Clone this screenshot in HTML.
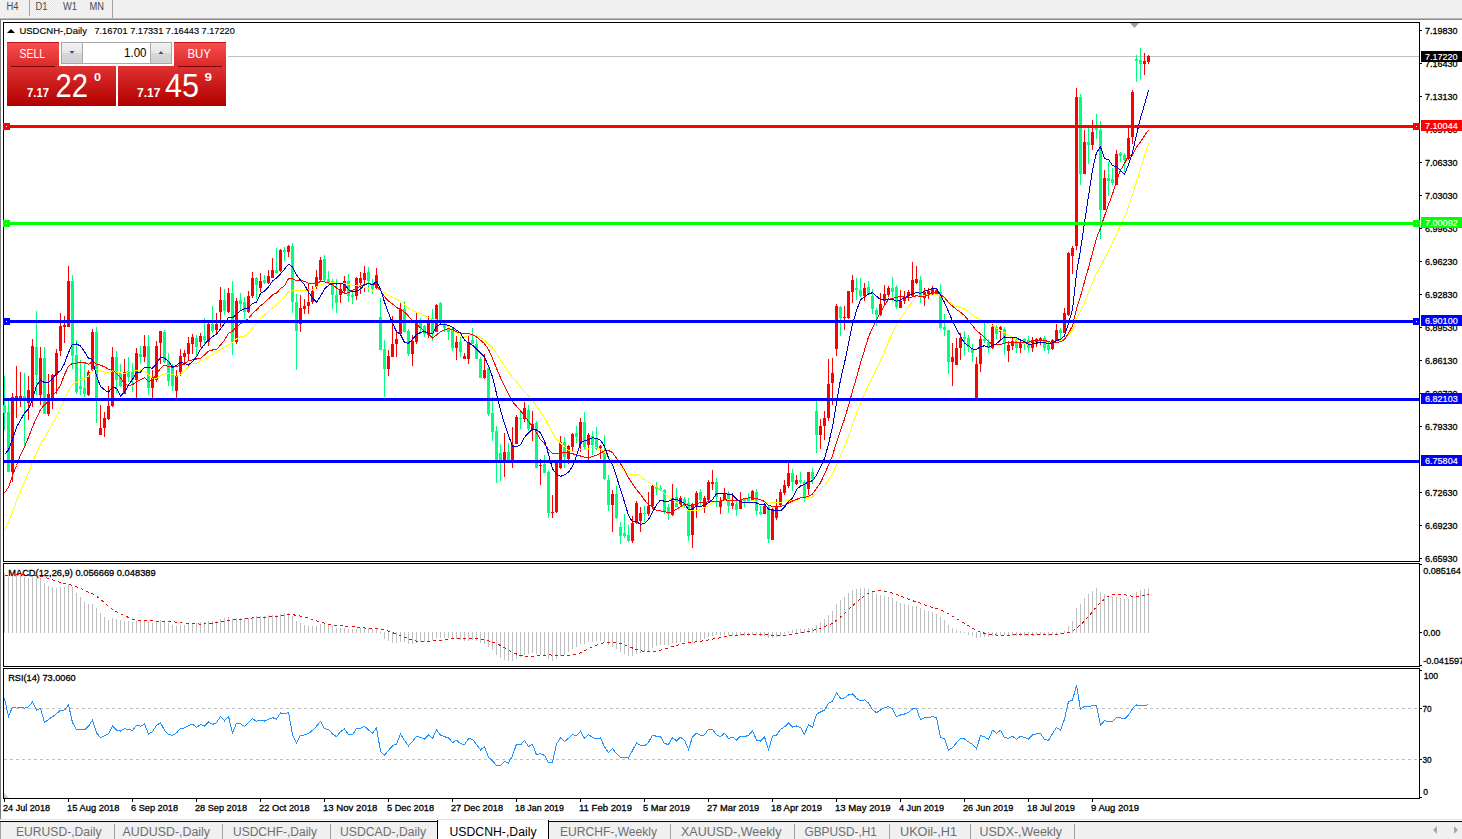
<!DOCTYPE html>
<html><head><meta charset="utf-8"><style>
html,body{margin:0;padding:0;background:#fff;overflow:hidden;width:1462px;height:839px}
svg{display:block;font-family:"Liberation Sans", sans-serif}
</style></head><body>
<svg width="1462" height="839" viewBox="0 0 1462 839">
<rect width="1462" height="839" fill="#fff"/>
<rect x="0" y="0" width="1462" height="18" fill="#f0f0f0"/>
<defs><pattern id="chk" width="2" height="2" patternUnits="userSpaceOnUse"><rect width="2" height="2" fill="#f7f7f7"/><rect width="1" height="1" fill="#e6e6e6"/><rect x="1" y="1" width="1" height="1" fill="#e6e6e6"/></pattern><linearGradient id="rtop" x1="0" y1="0" x2="0" y2="1"><stop offset="0" stop-color="#f75050"/><stop offset="1" stop-color="#dc2a2a"/></linearGradient><linearGradient id="rbot" x1="0" y1="0" x2="0" y2="1"><stop offset="0" stop-color="#e03232"/><stop offset="1" stop-color="#b00000"/></linearGradient><linearGradient id="gbtn" x1="0" y1="0" x2="0" y2="1"><stop offset="0" stop-color="#f2f2f2"/><stop offset="0.5" stop-color="#e6e6e6"/><stop offset="0.5" stop-color="#d8d8d8"/><stop offset="1" stop-color="#cfcfcf"/></linearGradient></defs>
<rect x="30" y="0" width="24" height="16" fill="url(#chk)"/>
<rect x="29" y="0" width="1" height="16" fill="#a0a0a0"/>
<rect x="112" y="0" width="1" height="18" fill="#a0a0a0"/>
<text x="6.5" y="10" font-size="10" fill="#4a4a4a" text-anchor="start" font-weight="normal" textLength="12" lengthAdjust="spacingAndGlyphs" >H4</text>
<text x="35.5" y="10" font-size="10" fill="#4a4a4a" text-anchor="start" font-weight="normal" textLength="12" lengthAdjust="spacingAndGlyphs" >D1</text>
<text x="63" y="10" font-size="10" fill="#4a4a4a" text-anchor="start" font-weight="normal" textLength="14" lengthAdjust="spacingAndGlyphs" >W1</text>
<text x="89.5" y="10" font-size="10" fill="#4a4a4a" text-anchor="start" font-weight="normal" textLength="14.5" lengthAdjust="spacingAndGlyphs" >MN</text>
<rect x="0" y="18" width="1462" height="1" fill="#b8b8b8"/>
<rect x="0" y="19" width="1462" height="1" fill="#8c8c8c"/>
<rect x="0" y="19" width="1" height="800" fill="#7a7a7a"/>
<rect x="3.5" y="22.5" width="1416" height="539" fill="none" stroke="#000" stroke-width="1"/>
<rect x="3.5" y="563.5" width="1416" height="103" fill="none" stroke="#000" stroke-width="1"/>
<rect x="3.5" y="668.5" width="1416" height="130" fill="none" stroke="#000" stroke-width="1"/>
<rect x="1420" y="30" width="2" height="1" fill="#000"/>
<text x="1425" y="34" font-size="9.8" fill="#000" text-anchor="start" font-weight="normal" textLength="32.5" lengthAdjust="spacingAndGlyphs" stroke="#000" stroke-width="0.3">7.19830</text>
<rect x="1420" y="63" width="2" height="1" fill="#000"/>
<text x="1425" y="67" font-size="9.8" fill="#000" text-anchor="start" font-weight="normal" textLength="32.5" lengthAdjust="spacingAndGlyphs" stroke="#000" stroke-width="0.3">7.16430</text>
<rect x="1420" y="96" width="2" height="1" fill="#000"/>
<text x="1425" y="100" font-size="9.8" fill="#000" text-anchor="start" font-weight="normal" textLength="32.5" lengthAdjust="spacingAndGlyphs" stroke="#000" stroke-width="0.3">7.13130</text>
<rect x="1420" y="129" width="2" height="1" fill="#000"/>
<text x="1425" y="133" font-size="9.8" fill="#000" text-anchor="start" font-weight="normal" textLength="32.5" lengthAdjust="spacingAndGlyphs" stroke="#000" stroke-width="0.3">7.09730</text>
<rect x="1420" y="162" width="2" height="1" fill="#000"/>
<text x="1425" y="166" font-size="9.8" fill="#000" text-anchor="start" font-weight="normal" textLength="32.5" lengthAdjust="spacingAndGlyphs" stroke="#000" stroke-width="0.3">7.06330</text>
<rect x="1420" y="195" width="2" height="1" fill="#000"/>
<text x="1425" y="199" font-size="9.8" fill="#000" text-anchor="start" font-weight="normal" textLength="32.5" lengthAdjust="spacingAndGlyphs" stroke="#000" stroke-width="0.3">7.03030</text>
<rect x="1420" y="228" width="2" height="1" fill="#000"/>
<text x="1425" y="232" font-size="9.8" fill="#000" text-anchor="start" font-weight="normal" textLength="32.5" lengthAdjust="spacingAndGlyphs" stroke="#000" stroke-width="0.3">6.99630</text>
<rect x="1420" y="261" width="2" height="1" fill="#000"/>
<text x="1425" y="265" font-size="9.8" fill="#000" text-anchor="start" font-weight="normal" textLength="32.5" lengthAdjust="spacingAndGlyphs" stroke="#000" stroke-width="0.3">6.96230</text>
<rect x="1420" y="294" width="2" height="1" fill="#000"/>
<text x="1425" y="298" font-size="9.8" fill="#000" text-anchor="start" font-weight="normal" textLength="32.5" lengthAdjust="spacingAndGlyphs" stroke="#000" stroke-width="0.3">6.92830</text>
<rect x="1420" y="327" width="2" height="1" fill="#000"/>
<text x="1425" y="331" font-size="9.8" fill="#000" text-anchor="start" font-weight="normal" textLength="32.5" lengthAdjust="spacingAndGlyphs" stroke="#000" stroke-width="0.3">6.89530</text>
<rect x="1420" y="360" width="2" height="1" fill="#000"/>
<text x="1425" y="364" font-size="9.8" fill="#000" text-anchor="start" font-weight="normal" textLength="32.5" lengthAdjust="spacingAndGlyphs" stroke="#000" stroke-width="0.3">6.86130</text>
<rect x="1420" y="393" width="2" height="1" fill="#000"/>
<text x="1425" y="397" font-size="9.8" fill="#000" text-anchor="start" font-weight="normal" textLength="32.5" lengthAdjust="spacingAndGlyphs" stroke="#000" stroke-width="0.3">6.82730</text>
<rect x="1420" y="426" width="2" height="1" fill="#000"/>
<text x="1425" y="430" font-size="9.8" fill="#000" text-anchor="start" font-weight="normal" textLength="32.5" lengthAdjust="spacingAndGlyphs" stroke="#000" stroke-width="0.3">6.79330</text>
<rect x="1420" y="459" width="2" height="1" fill="#000"/>
<text x="1425" y="463" font-size="9.8" fill="#000" text-anchor="start" font-weight="normal" textLength="32.5" lengthAdjust="spacingAndGlyphs" stroke="#000" stroke-width="0.3">6.75930</text>
<rect x="1420" y="492" width="2" height="1" fill="#000"/>
<text x="1425" y="496" font-size="9.8" fill="#000" text-anchor="start" font-weight="normal" textLength="32.5" lengthAdjust="spacingAndGlyphs" stroke="#000" stroke-width="0.3">6.72630</text>
<rect x="1420" y="525" width="2" height="1" fill="#000"/>
<text x="1425" y="529" font-size="9.8" fill="#000" text-anchor="start" font-weight="normal" textLength="32.5" lengthAdjust="spacingAndGlyphs" stroke="#000" stroke-width="0.3">6.69230</text>
<rect x="1420" y="558" width="2" height="1" fill="#000"/>
<text x="1425" y="562" font-size="9.8" fill="#000" text-anchor="start" font-weight="normal" textLength="32.5" lengthAdjust="spacingAndGlyphs" stroke="#000" stroke-width="0.3">6.65930</text>
<rect x="1420" y="564" width="2" height="1" fill="#000"/>
<rect x="1420" y="632" width="2" height="1" fill="#000"/>
<rect x="1420" y="665" width="2" height="1" fill="#000"/>
<text x="1423.2" y="573.6" font-size="9.8" fill="#000" text-anchor="start" font-weight="normal" textLength="37.6" lengthAdjust="spacingAndGlyphs" stroke="#000" stroke-width="0.3">0.085164</text>
<text x="1423.2" y="635.7" font-size="9.8" fill="#000" text-anchor="start" font-weight="normal" textLength="17.1" lengthAdjust="spacingAndGlyphs" stroke="#000" stroke-width="0.3">0.00</text>
<text x="1423.2" y="663.8" font-size="9.8" fill="#000" text-anchor="start" font-weight="normal" textLength="41" lengthAdjust="spacingAndGlyphs" stroke="#000" stroke-width="0.3">-0.041597</text>
<rect x="1420" y="670" width="2" height="1" fill="#000"/>
<rect x="1420" y="708" width="2" height="1" fill="#000"/>
<rect x="1420" y="759" width="2" height="1" fill="#000"/>
<rect x="1420" y="797" width="2" height="1" fill="#000"/>
<text x="1423.7" y="679.2" font-size="9.8" fill="#000" text-anchor="start" font-weight="normal" textLength="14.5" lengthAdjust="spacingAndGlyphs" stroke="#000" stroke-width="0.3">100</text>
<text x="1422.5" y="712" font-size="9.8" fill="#000" text-anchor="start" font-weight="normal" textLength="9.2" lengthAdjust="spacingAndGlyphs" stroke="#000" stroke-width="0.3">70</text>
<text x="1422.5" y="762.8" font-size="9.8" fill="#000" text-anchor="start" font-weight="normal" textLength="9.2" lengthAdjust="spacingAndGlyphs" stroke="#000" stroke-width="0.3">30</text>
<text x="1423.2" y="794.5" font-size="9.8" fill="#000" text-anchor="start" font-weight="normal" textLength="4.8" lengthAdjust="spacingAndGlyphs" stroke="#000" stroke-width="0.3">0</text>
<rect x="4" y="799" width="1" height="3" fill="#000"/>
<text x="3" y="811" font-size="9.8" fill="#000" text-anchor="start" font-weight="normal" textLength="47" lengthAdjust="spacingAndGlyphs" stroke="#000" stroke-width="0.3">24 Jul 2018</text>
<rect x="68" y="799" width="1" height="3" fill="#000"/>
<text x="67" y="811" font-size="9.8" fill="#000" text-anchor="start" font-weight="normal" textLength="52.5" lengthAdjust="spacingAndGlyphs" stroke="#000" stroke-width="0.3">15 Aug 2018</text>
<rect x="132" y="799" width="1" height="3" fill="#000"/>
<text x="131" y="811" font-size="9.8" fill="#000" text-anchor="start" font-weight="normal" textLength="47" lengthAdjust="spacingAndGlyphs" stroke="#000" stroke-width="0.3">6 Sep 2018</text>
<rect x="196" y="799" width="1" height="3" fill="#000"/>
<text x="195" y="811" font-size="9.8" fill="#000" text-anchor="start" font-weight="normal" textLength="52" lengthAdjust="spacingAndGlyphs" stroke="#000" stroke-width="0.3">28 Sep 2018</text>
<rect x="260" y="799" width="1" height="3" fill="#000"/>
<text x="259" y="811" font-size="9.8" fill="#000" text-anchor="start" font-weight="normal" textLength="50.6" lengthAdjust="spacingAndGlyphs" stroke="#000" stroke-width="0.3">22 Oct 2018</text>
<rect x="324" y="799" width="1" height="3" fill="#000"/>
<text x="323" y="811" font-size="9.8" fill="#000" text-anchor="start" font-weight="normal" textLength="54.4" lengthAdjust="spacingAndGlyphs" stroke="#000" stroke-width="0.3">13 Nov 2018</text>
<rect x="388" y="799" width="1" height="3" fill="#000"/>
<text x="387" y="811" font-size="9.8" fill="#000" text-anchor="start" font-weight="normal" textLength="47" lengthAdjust="spacingAndGlyphs" stroke="#000" stroke-width="0.3">5 Dec 2018</text>
<rect x="452" y="799" width="1" height="3" fill="#000"/>
<text x="451" y="811" font-size="9.8" fill="#000" text-anchor="start" font-weight="normal" textLength="52" lengthAdjust="spacingAndGlyphs" stroke="#000" stroke-width="0.3">27 Dec 2018</text>
<rect x="516" y="799" width="1" height="3" fill="#000"/>
<text x="515" y="811" font-size="9.8" fill="#000" text-anchor="start" font-weight="normal" textLength="49" lengthAdjust="spacingAndGlyphs" stroke="#000" stroke-width="0.3">18 Jan 2019</text>
<rect x="580" y="799" width="1" height="3" fill="#000"/>
<text x="579" y="811" font-size="9.8" fill="#000" text-anchor="start" font-weight="normal" textLength="53" lengthAdjust="spacingAndGlyphs" stroke="#000" stroke-width="0.3">11 Feb 2019</text>
<rect x="644" y="799" width="1" height="3" fill="#000"/>
<text x="643" y="811" font-size="9.8" fill="#000" text-anchor="start" font-weight="normal" textLength="47" lengthAdjust="spacingAndGlyphs" stroke="#000" stroke-width="0.3">5 Mar 2019</text>
<rect x="708" y="799" width="1" height="3" fill="#000"/>
<text x="707" y="811" font-size="9.8" fill="#000" text-anchor="start" font-weight="normal" textLength="52.3" lengthAdjust="spacingAndGlyphs" stroke="#000" stroke-width="0.3">27 Mar 2019</text>
<rect x="772" y="799" width="1" height="3" fill="#000"/>
<text x="771" y="811" font-size="9.8" fill="#000" text-anchor="start" font-weight="normal" textLength="51" lengthAdjust="spacingAndGlyphs" stroke="#000" stroke-width="0.3">18 Apr 2019</text>
<rect x="836" y="799" width="1" height="3" fill="#000"/>
<text x="835" y="811" font-size="9.8" fill="#000" text-anchor="start" font-weight="normal" textLength="55.6" lengthAdjust="spacingAndGlyphs" stroke="#000" stroke-width="0.3">13 May 2019</text>
<rect x="900" y="799" width="1" height="3" fill="#000"/>
<text x="899" y="811" font-size="9.8" fill="#000" text-anchor="start" font-weight="normal" textLength="45" lengthAdjust="spacingAndGlyphs" stroke="#000" stroke-width="0.3">4 Jun 2019</text>
<rect x="964" y="799" width="1" height="3" fill="#000"/>
<text x="963" y="811" font-size="9.8" fill="#000" text-anchor="start" font-weight="normal" textLength="50.4" lengthAdjust="spacingAndGlyphs" stroke="#000" stroke-width="0.3">26 Jun 2019</text>
<rect x="1028" y="799" width="1" height="3" fill="#000"/>
<text x="1027" y="811" font-size="9.8" fill="#000" text-anchor="start" font-weight="normal" textLength="48" lengthAdjust="spacingAndGlyphs" stroke="#000" stroke-width="0.3">18 Jul 2019</text>
<rect x="1092" y="799" width="1" height="3" fill="#000"/>
<text x="1091" y="811" font-size="9.8" fill="#000" text-anchor="start" font-weight="normal" textLength="48" lengthAdjust="spacingAndGlyphs" stroke="#000" stroke-width="0.3">9 Aug 2019</text>
<path d="M4 793 L4 798 L9 798 Z" fill="#c8c8c8"/>
<rect x="0" y="819" width="1462" height="1" fill="#e3e3e3"/>
<rect x="1" y="822" width="1461" height="17" fill="#f0f0f0"/>
<rect x="0" y="821" width="1462" height="1" fill="#000"/>
<rect x="0" y="822" width="1" height="17" fill="#a0a0a0"/>
<rect x="438" y="820" width="110" height="19" fill="#fff"/>
<rect x="437" y="820" width="1" height="19" fill="#000"/>
<rect x="548" y="820" width="1" height="19" fill="#000"/>
<text x="16" y="836" font-size="12" fill="#6e6e6e" text-anchor="start" font-weight="normal" textLength="85.5" lengthAdjust="spacingAndGlyphs" >EURUSD-,Daily</text>
<text x="122.6" y="836" font-size="12" fill="#6e6e6e" text-anchor="start" font-weight="normal" textLength="87.4" lengthAdjust="spacingAndGlyphs" >AUDUSD-,Daily</text>
<text x="233" y="836" font-size="12" fill="#6e6e6e" text-anchor="start" font-weight="normal" textLength="84" lengthAdjust="spacingAndGlyphs" >USDCHF-,Daily</text>
<text x="340" y="836" font-size="12" fill="#6e6e6e" text-anchor="start" font-weight="normal" textLength="86" lengthAdjust="spacingAndGlyphs" >USDCAD-,Daily</text>
<text x="449.5" y="836" font-size="12" fill="#000" text-anchor="start" font-weight="normal" textLength="87.0" lengthAdjust="spacingAndGlyphs" >USDCNH-,Daily</text>
<text x="560" y="836" font-size="12" fill="#6e6e6e" text-anchor="start" font-weight="normal" textLength="97" lengthAdjust="spacingAndGlyphs" >EURCHF-,Weekly</text>
<text x="681" y="836" font-size="12" fill="#6e6e6e" text-anchor="start" font-weight="normal" textLength="100.4" lengthAdjust="spacingAndGlyphs" >XAUUSD-,Weekly</text>
<text x="804.4" y="836" font-size="12" fill="#6e6e6e" text-anchor="start" font-weight="normal" textLength="72.6" lengthAdjust="spacingAndGlyphs" >GBPUSD-,H1</text>
<text x="900" y="836" font-size="12" fill="#6e6e6e" text-anchor="start" font-weight="normal" textLength="57" lengthAdjust="spacingAndGlyphs" >UKOil-,H1</text>
<text x="979.5" y="836" font-size="12" fill="#6e6e6e" text-anchor="start" font-weight="normal" textLength="82.5" lengthAdjust="spacingAndGlyphs" >USDX-,Weekly</text>
<rect x="114" y="824" width="1" height="15" fill="#a0a0a0"/>
<rect x="222" y="824" width="1" height="15" fill="#a0a0a0"/>
<rect x="330" y="824" width="1" height="15" fill="#a0a0a0"/>
<rect x="670" y="824" width="1" height="15" fill="#a0a0a0"/>
<rect x="794" y="824" width="1" height="15" fill="#a0a0a0"/>
<rect x="889" y="824" width="1" height="15" fill="#a0a0a0"/>
<rect x="970" y="824" width="1" height="15" fill="#a0a0a0"/>
<rect x="1074" y="824" width="1" height="15" fill="#a0a0a0"/>
<path d="M1433 830 L1437 826 L1437 834 Z" fill="#a8a8a8"/>
<path d="M1458 830 L1454 826 L1454 834 Z" fill="#a8a8a8"/>
<path d="M7 33 L11 29 L15 33 Z" fill="#000"/>
<text x="19.4" y="34" font-size="9.8" fill="#000" text-anchor="start" font-weight="normal" textLength="67.5" lengthAdjust="spacingAndGlyphs" stroke="#000" stroke-width="0.15">USDCNH-,Daily</text>
<text x="94.4" y="34" font-size="9.8" fill="#000" text-anchor="start" font-weight="normal" textLength="140.4" lengthAdjust="spacingAndGlyphs" stroke="#000" stroke-width="0.15">7.16701 7.17331 7.16443 7.17220</text>
<text x="8.2" y="576" font-size="9.8" fill="#000" text-anchor="start" font-weight="normal" textLength="147.5" lengthAdjust="spacingAndGlyphs" stroke="#000" stroke-width="0.3">MACD(12,26,9) 0.056669 0.048389</text>
<text x="8.2" y="681" font-size="9.8" fill="#000" text-anchor="start" font-weight="normal" textLength="67.5" lengthAdjust="spacingAndGlyphs" stroke="#000" stroke-width="0.3">RSI(14) 73.0060</text>
<rect x="228" y="56" width="1191" height="1" fill="#c0c0c0"/>
<g shape-rendering="crispEdges">
<path d="M4 376h1v54h-1z M3 405h3v8h-3z M8 400h1v72h-1z M7 412h3v60h-3z M24 373h1v74h-1z M23 396h3v4h-3z M36 311h1v84h-1z M35 347h3v28h-3z M44 347h1v67h-1z M43 358h3v56h-3z M72 275h1v94h-1z M71 281h3v75h-3z M76 340h1v54h-1z M75 355h3v37h-3z M80 360h1v35h-1z M79 386h3v3h-3z M84 363h1v34h-1z M83 388h3v6h-3z M96 327h1v96h-1z M95 332h3v66h-3z M116 351h1v42h-1z M115 357h3v23h-3z M120 364h1v23h-1z M119 373h3v13h-3z M128 357h1v25h-1z M127 371h3v6h-3z M132 363h1v29h-1z M131 371h3v9h-3z M140 346h1v18h-1z M139 354h3v3h-3z M148 335h1v60h-1z M147 346h3v42h-3z M164 330h1v33h-1z M163 332h3v30h-3z M168 353h1v33h-1z M167 361h3v20h-3z M172 364h1v27h-1z M171 368h3v18h-3z M196 335h1v21h-1z M195 338h3v9h-3z M204 318h1v28h-1z M203 336h3v4h-3z M212 306h1v27h-1z M211 324h3v7h-3z M224 289h1v26h-1z M223 300h3v11h-3z M232 281h1v74h-1z M231 293h3v49h-3z M240 293h1v17h-1z M239 300h3v4h-3z M244 297h1v22h-1z M243 302h3v10h-3z M256 277h1v22h-1z M255 278h3v7h-3z M264 275h1v9h-1z M263 280h3v3h-3z M276 248h1v26h-1z M275 270h3v3h-3z M284 247h1v14h-1z M283 250h3v2h-3z M292 243h1v70h-1z M291 246h3v56h-3z M296 294h1v76h-1z M295 302h3v29h-3z M324 255h1v26h-1z M323 259h3v21h-3z M328 271h1v13h-1z M327 279h3v3h-3z M332 279h1v30h-1z M331 281h3v14h-3z M336 279h1v34h-1z M335 295h3v8h-3z M348 274h1v28h-1z M347 281h3v15h-3z M352 291h1v13h-1z M351 295h3v2h-3z M368 267h1v25h-1z M367 272h3v9h-3z M372 279h1v15h-1z M371 284h3v5h-3z M380 298h1v52h-1z M379 317h3v33h-3z M384 340h1v57h-1z M383 349h3v20h-3z M404 301h1v31h-1z M403 309h3v23h-3z M408 329h1v27h-1z M407 331h3v23h-3z M420 318h1v16h-1z M419 323h3v5h-3z M424 325h1v12h-1z M423 326h3v8h-3z M432 309h1v32h-1z M431 318h3v16h-3z M440 302h1v22h-1z M439 303h3v20h-3z M444 322h1v10h-1z M443 324h3v4h-3z M448 326h1v14h-1z M447 328h3v4h-3z M452 328h1v23h-1z M451 330h3v18h-3z M460 337h1v20h-1z M459 342h3v10h-3z M472 328h1v16h-1z M471 340h3v4h-3z M476 339h1v20h-1z M475 344h3v15h-3z M480 357h1v21h-1z M479 359h3v19h-3z M488 367h1v49h-1z M487 368h3v46h-3z M492 397h1v44h-1z M491 413h3v19h-3z M496 426h1v57h-1z M495 431h3v29h-3z M500 444h1v37h-1z M499 453h3v7h-3z M508 443h1v17h-1z M507 452h3v8h-3z M520 412h1v17h-1z M519 418h3v1h-3z M528 405h1v26h-1z M527 410h3v19h-3z M536 421h1v47h-1z M535 423h3v45h-3z M544 455h1v18h-1z M543 464h3v9h-3z M548 470h1v48h-1z M547 472h3v41h-3z M564 437h1v31h-1z M563 442h3v15h-3z M576 426h1v17h-1z M575 433h3v4h-3z M584 412h1v37h-1z M583 422h3v25h-3z M592 431h1v24h-1z M591 436h3v9h-3z M596 427h1v23h-1z M595 438h3v11h-3z M604 435h1v45h-1z M603 452h3v27h-3z M608 475h1v36h-1z M607 480h3v25h-3z M616 486h1v33h-1z M615 494h3v24h-3z M620 522h1v22h-1z M619 527h3v9h-3z M624 514h1v24h-1z M623 533h3v3h-3z M628 525h1v17h-1z M627 535h3v6h-3z M644 506h1v16h-1z M643 513h3v1h-3z M656 482h1v13h-1z M655 486h3v3h-3z M660 485h1v6h-1z M659 488h3v2h-3z M664 489h1v25h-1z M663 490h3v21h-3z M668 504h1v16h-1z M667 507h3v7h-3z M676 488h1v19h-1z M675 497h3v10h-3z M684 497h1v10h-1z M683 499h3v7h-3z M688 498h1v43h-1z M687 503h3v33h-3z M700 489h1v18h-1z M699 492h3v8h-3z M716 478h1v29h-1z M715 482h3v15h-3z M728 491h1v22h-1z M727 493h3v13h-3z M736 501h1v15h-1z M735 504h3v6h-3z M744 498h1v9h-1z M743 499h3v4h-3z M748 493h1v9h-1z M747 498h3v3h-3z M756 489h1v26h-1z M755 492h3v19h-3z M760 506h1v9h-1z M759 512h3v2h-3z M768 505h1v38h-1z M767 507h3v32h-3z M792 469h1v22h-1z M791 473h3v9h-3z M800 472h1v12h-1z M799 480h3v2h-3z M804 480h1v22h-1z M803 482h3v15h-3z M812 468h1v16h-1z M811 472h3v7h-3z M816 401h1v52h-1z M815 411h3v24h-3z M840 306h1v30h-1z M839 307h3v11h-3z M856 278h1v22h-1z M855 288h3v2h-3z M860 278h1v19h-1z M859 290h3v6h-3z M868 281h1v14h-1z M867 287h3v8h-3z M872 289h1v25h-1z M871 296h3v13h-3z M876 308h1v18h-1z M875 310h3v5h-3z M892 277h1v24h-1z M891 288h3v4h-3z M896 285h1v24h-1z M895 287h3v20h-3z M920 276h1v27h-1z M919 280h3v17h-3z M940 284h1v45h-1z M939 292h3v36h-3z M944 314h1v22h-1z M943 327h3v3h-3z M948 330h1v44h-1z M947 330h3v32h-3z M964 331h1v25h-1z M963 337h3v2h-3z M968 335h1v17h-1z M967 338h3v9h-3z M972 344h1v18h-1z M971 349h3v4h-3z M984 322h1v21h-1z M983 339h3v2h-3z M988 339h1v14h-1z M987 342h3v6h-3z M996 325h1v14h-1z M995 327h3v7h-3z M1004 327h1v28h-1z M1003 329h3v15h-3z M1016 337h1v16h-1z M1015 340h3v8h-3z M1024 338h1v12h-1z M1023 339h3v5h-3z M1028 336h1v17h-1z M1027 340h3v8h-3z M1044 336h1v15h-1z M1043 338h3v10h-3z M1048 342h1v12h-1z M1047 345h3v5h-3z M1060 328h1v11h-1z M1059 330h3v3h-3z M1080 94h1v91h-1z M1079 97h3v77h-3z M1088 128h1v36h-1z M1087 142h3v3h-3z M1096 114h1v25h-1z M1095 128h3v2h-3z M1100 121h1v118h-1z M1099 130h3v80h-3z M1108 162h1v34h-1z M1107 178h3v3h-3z M1112 168h1v17h-1z M1111 179h3v4h-3z M1120 152h1v10h-1z M1119 153h3v3h-3z M1124 153h1v19h-1z M1123 155h3v5h-3z M1136 55h1v27h-1z M1135 59h3v2h-3z M1140 48h1v31h-1z M1139 60h3v4h-3z" fill="#00ff7f"/>
<path d="M12 393h1v89h-1z M11 397h3v75h-3z M16 366h1v52h-1z M15 396h3v2h-3z M20 372h1v35h-1z M19 396h3v3h-3z M28 376h1v44h-1z M27 390h3v13h-3z M32 339h1v68h-1z M31 346h3v52h-3z M40 347h1v58h-1z M39 358h3v37h-3z M48 374h1v42h-1z M47 394h3v20h-3z M52 374h1v35h-1z M51 375h3v23h-3z M56 349h1v45h-1z M55 353h3v22h-3z M60 313h1v43h-1z M59 326h3v25h-3z M64 316h1v27h-1z M63 325h3v2h-3z M68 266h1v61h-1z M67 281h3v46h-3z M88 370h1v26h-1z M87 372h3v23h-3z M92 329h1v42h-1z M91 332h3v38h-3z M100 405h1v30h-1z M99 428h3v7h-3z M104 412h1v25h-1z M103 418h3v10h-3z M108 386h1v34h-1z M107 406h3v13h-3z M112 347h1v60h-1z M111 357h3v49h-3z M124 359h1v35h-1z M123 372h3v22h-3z M136 348h1v50h-1z M135 353h3v27h-3z M144 335h1v27h-1z M143 346h3v11h-3z M152 370h1v28h-1z M151 377h3v11h-3z M156 341h1v41h-1z M155 346h3v34h-3z M160 331h1v33h-1z M159 331h3v12h-3z M176 370h1v28h-1z M175 375h3v16h-3z M180 349h1v27h-1z M179 356h3v16h-3z M184 350h1v15h-1z M183 353h3v4h-3z M188 337h1v23h-1z M187 343h3v11h-3z M192 334h1v20h-1z M191 337h3v7h-3z M200 333h1v14h-1z M199 336h3v6h-3z M208 323h1v23h-1z M207 324h3v18h-3z M216 313h1v21h-1z M215 324h3v6h-3z M220 287h1v40h-1z M219 300h3v12h-3z M228 288h1v25h-1z M227 293h3v19h-3z M236 298h1v46h-1z M235 301h3v41h-3z M248 291h1v22h-1z M247 296h3v16h-3z M252 272h1v26h-1z M251 278h3v18h-3z M260 273h1v19h-1z M259 281h3v7h-3z M268 270h1v14h-1z M267 276h3v7h-3z M272 258h1v19h-1z M271 270h3v8h-3z M280 249h1v23h-1z M279 250h3v21h-3z M288 245h1v12h-1z M287 246h3v6h-3z M300 295h1v37h-1z M299 308h3v16h-3z M304 299h1v15h-1z M303 306h3v3h-3z M308 284h1v30h-1z M307 302h3v4h-3z M312 286h1v18h-1z M311 291h3v11h-3z M316 270h1v19h-1z M315 277h3v10h-3z M320 257h1v24h-1z M319 260h3v20h-3z M340 284h1v19h-1z M339 289h3v6h-3z M344 276h1v17h-1z M343 281h3v10h-3z M356 277h1v23h-1z M355 278h3v18h-3z M360 272h1v22h-1z M359 278h3v5h-3z M364 266h1v26h-1z M363 273h3v7h-3z M376 268h1v21h-1z M375 275h3v13h-3z M388 350h1v26h-1z M387 356h3v13h-3z M392 316h1v41h-1z M391 344h3v13h-3z M396 332h1v25h-1z M395 339h3v5h-3z M400 303h1v32h-1z M399 309h3v25h-3z M412 335h1v31h-1z M411 341h3v13h-3z M416 313h1v31h-1z M415 323h3v19h-3z M428 316h1v22h-1z M427 321h3v14h-3z M436 304h1v28h-1z M435 305h3v27h-3z M456 336h1v24h-1z M455 342h3v6h-3z M464 353h1v6h-1z M463 356h3v3h-3z M468 336h1v28h-1z M467 342h3v17h-3z M484 354h1v25h-1z M483 370h3v8h-3z M504 433h1v44h-1z M503 452h3v8h-3z M512 427h1v41h-1z M511 445h3v15h-3z M516 415h1v29h-1z M515 417h3v27h-3z M524 402h1v20h-1z M523 408h3v11h-3z M532 411h1v30h-1z M531 424h3v5h-3z M540 459h1v26h-1z M539 465h3v1h-3z M552 495h1v23h-1z M551 512h3v1h-3z M556 462h1v51h-1z M555 463h3v49h-3z M560 436h1v33h-1z M559 442h3v26h-3z M568 445h1v19h-1z M567 446h3v13h-3z M572 433h1v18h-1z M571 434h3v13h-3z M580 418h1v34h-1z M579 422h3v22h-3z M588 433h1v27h-1z M587 435h3v10h-3z M600 445h1v14h-1z M599 446h3v2h-3z M612 490h1v42h-1z M611 494h3v11h-3z M632 516h1v27h-1z M631 523h3v18h-3z M636 501h1v23h-1z M635 503h3v20h-3z M640 507h1v25h-1z M639 513h3v8h-3z M648 492h1v24h-1z M647 506h3v8h-3z M652 485h1v24h-1z M651 486h3v20h-3z M672 484h1v32h-1z M671 498h3v17h-3z M680 496h1v11h-1z M679 498h3v7h-3z M692 503h1v45h-1z M691 504h3v31h-3z M696 491h1v27h-1z M695 493h3v14h-3z M704 496h1v17h-1z M703 498h3v9h-3z M708 480h1v23h-1z M707 482h3v18h-3z M712 470h1v20h-1z M711 482h3v2h-3z M720 497h1v17h-1z M719 501h3v6h-3z M724 488h1v12h-1z M723 493h3v7h-3z M732 493h1v16h-1z M731 503h3v3h-3z M740 492h1v17h-1z M739 502h3v7h-3z M752 490h1v11h-1z M751 491h3v9h-3z M764 504h1v10h-1z M763 506h3v8h-3z M772 508h1v32h-1z M771 509h3v31h-3z M776 499h1v21h-1z M775 507h3v11h-3z M780 489h1v18h-1z M779 492h3v13h-3z M784 480h1v15h-1z M783 485h3v8h-3z M788 463h1v25h-1z M787 473h3v13h-3z M796 475h1v10h-1z M795 480h3v4h-3z M808 472h1v23h-1z M807 472h3v17h-3z M820 419h1v30h-1z M819 426h3v9h-3z M824 411h1v29h-1z M823 418h3v8h-3z M828 359h1v62h-1z M827 384h3v34h-3z M832 358h1v47h-1z M831 373h3v10h-3z M836 304h1v52h-1z M835 306h3v43h-3z M844 306h1v24h-1z M843 317h3v1h-3z M848 291h1v28h-1z M847 291h3v27h-3z M852 275h1v28h-1z M851 280h3v12h-3z M864 283h1v18h-1z M863 288h3v8h-3z M880 293h1v23h-1z M879 304h3v11h-3z M884 285h1v19h-1z M883 294h3v7h-3z M888 286h1v11h-1z M887 288h3v7h-3z M900 290h1v18h-1z M899 301h3v7h-3z M904 291h1v13h-1z M903 297h3v4h-3z M908 290h1v11h-1z M907 292h3v4h-3z M912 262h1v35h-1z M911 280h3v16h-3z M916 266h1v18h-1z M915 279h3v4h-3z M924 288h1v18h-1z M923 292h3v6h-3z M928 288h1v11h-1z M927 291h3v4h-3z M932 286h1v9h-1z M931 288h3v6h-3z M936 289h1v6h-1z M935 290h3v4h-3z M952 343h1v43h-1z M951 357h3v5h-3z M956 338h1v27h-1z M955 348h3v17h-3z M960 333h1v27h-1z M959 338h3v10h-3z M976 357h1v41h-1z M975 364h3v34h-3z M980 336h1v36h-1z M979 339h3v25h-3z M992 324h1v25h-1z M991 327h3v21h-3z M1000 326h1v13h-1z M999 327h3v5h-3z M1008 341h1v21h-1z M1007 345h3v6h-3z M1012 338h1v12h-1z M1011 341h3v5h-3z M1020 339h1v14h-1z M1019 342h3v6h-3z M1032 337h1v15h-1z M1031 340h3v8h-3z M1036 338h1v9h-1z M1035 339h3v5h-3z M1040 337h1v8h-1z M1039 338h3v3h-3z M1052 339h1v11h-1z M1051 340h3v9h-3z M1056 324h1v18h-1z M1055 330h3v12h-3z M1064 308h1v25h-1z M1063 313h3v20h-3z M1068 252h1v64h-1z M1067 253h3v62h-3z M1072 246h1v28h-1z M1071 248h3v8h-3z M1076 88h1v162h-1z M1075 97h3v149h-3z M1084 130h1v44h-1z M1083 142h3v32h-3z M1092 120h1v30h-1z M1091 132h3v13h-3z M1104 170h1v40h-1z M1103 178h3v32h-3z M1116 150h1v35h-1z M1115 154h3v31h-3z M1128 128h1v32h-1z M1127 138h3v21h-3z M1132 90h1v54h-1z M1131 92h3v45h-3z M1144 53h1v22h-1z M1143 61h3v3h-3z M1148 55h1v9h-1z M1147 56h3v6h-3z" fill="#ff0000"/>
</g>
<polyline points="4.5,530.1 8.5,522.0 12.5,511.7 16.5,500.9 20.5,491.5 24.5,481.8 28.5,473.1 32.5,461.8 36.5,453.3 40.5,443.6 44.5,437.9 48.5,430.8 52.5,424.2 56.5,416.1 60.5,408.2 64.5,399.7 68.5,390.5 72.5,384.6 76.5,382.2 80.5,379.2 84.5,378.1 88.5,376.1 92.5,369.5 96.5,369.5 100.5,371.0 104.5,372.1 108.5,372.3 112.5,370.8 116.5,372.4 120.5,372.9 124.5,373.6 128.5,371.8 132.5,371.2 136.5,370.1 140.5,370.3 144.5,371.3 148.5,374.3 152.5,378.8 156.5,378.4 160.5,375.4 164.5,374.1 168.5,373.5 172.5,374.2 176.5,376.3 180.5,374.3 184.5,370.7 188.5,367.1 192.5,363.8 196.5,363.4 200.5,361.3 204.5,359.1 208.5,356.8 212.5,354.6 216.5,352.0 220.5,349.4 224.5,347.2 228.5,344.7 232.5,342.5 236.5,338.9 240.5,336.9 244.5,336.0 248.5,332.8 252.5,327.9 256.5,323.1 260.5,318.6 264.5,315.1 268.5,311.4 272.5,308.0 276.5,304.9 280.5,300.3 284.5,296.3 288.5,291.8 292.5,290.8 296.5,290.8 300.5,290.0 304.5,290.3 308.5,289.8 312.5,289.7 316.5,286.7 320.5,284.7 324.5,283.6 328.5,282.2 332.5,282.2 336.5,283.4 340.5,283.6 344.5,283.6 348.5,284.2 352.5,285.2 356.5,285.6 360.5,285.8 364.5,287.0 368.5,288.4 372.5,290.4 376.5,289.1 380.5,290.0 384.5,292.9 388.5,295.3 392.5,297.3 396.5,299.6 400.5,301.1 404.5,304.5 408.5,308.1 412.5,310.9 416.5,312.2 420.5,313.4 424.5,315.5 428.5,317.5 432.5,319.2 436.5,319.6 440.5,321.8 444.5,324.1 448.5,326.9 452.5,330.1 456.5,332.6 460.5,336.3 464.5,336.6 468.5,335.4 472.5,334.8 476.5,335.5 480.5,337.3 484.5,340.2 488.5,344.1 492.5,347.8 496.5,353.5 500.5,360.0 504.5,365.9 508.5,371.9 512.5,377.8 516.5,381.8 520.5,387.2 524.5,391.3 528.5,396.1 532.5,400.5 536.5,406.2 540.5,412.0 544.5,417.8 548.5,425.3 552.5,433.3 556.5,439.0 560.5,443.0 564.5,446.8 568.5,450.4 572.5,451.3 576.5,451.6 580.5,449.8 584.5,449.1 588.5,448.3 592.5,447.6 596.5,447.7 600.5,449.2 604.5,452.0 608.5,456.6 612.5,459.7 616.5,464.2 620.5,467.4 624.5,470.8 628.5,474.0 632.5,474.5 636.5,474.1 640.5,476.5 644.5,479.9 648.5,482.3 652.5,484.2 656.5,486.8 660.5,489.3 664.5,493.6 668.5,496.7 672.5,499.7 676.5,502.7 680.5,505.1 684.5,507.9 688.5,510.6 692.5,510.6 696.5,510.6 700.5,509.7 704.5,507.9 708.5,505.4 712.5,502.6 716.5,501.3 720.5,501.2 724.5,500.3 728.5,499.9 732.5,499.8 736.5,500.9 740.5,501.5 744.5,502.1 748.5,501.7 752.5,500.6 756.5,501.2 760.5,501.5 764.5,501.9 768.5,503.4 772.5,502.1 776.5,502.3 780.5,502.2 784.5,501.5 788.5,500.3 792.5,500.3 796.5,500.2 800.5,499.5 804.5,499.3 808.5,498.3 812.5,497.0 816.5,493.8 820.5,489.8 824.5,485.7 828.5,480.0 832.5,473.9 836.5,465.1 840.5,455.9 844.5,446.6 848.5,436.4 852.5,424.1 856.5,413.6 860.5,403.6 864.5,393.9 868.5,384.8 872.5,377.0 876.5,369.0 880.5,360.7 884.5,351.7 888.5,341.7 892.5,333.1 896.5,325.0 900.5,318.6 904.5,312.5 908.5,306.5 912.5,301.5 916.5,297.1 920.5,296.6 924.5,295.4 928.5,294.2 932.5,294.0 936.5,294.5 940.5,296.3 944.5,298.0 948.5,301.5 952.5,304.4 956.5,306.3 960.5,307.3 964.5,309.0 968.5,311.6 972.5,314.7 976.5,318.1 980.5,319.6 984.5,321.5 988.5,323.9 992.5,325.6 996.5,328.2 1000.5,330.5 1004.5,332.7 1008.5,335.2 1012.5,337.6 1016.5,340.4 1020.5,342.9 1024.5,343.7 1028.5,344.5 1032.5,343.4 1036.5,342.6 1040.5,342.1 1044.5,342.6 1048.5,343.1 1052.5,342.7 1056.5,341.6 1060.5,340.2 1064.5,338.9 1068.5,334.7 1072.5,330.0 1076.5,319.0 1080.5,311.4 1084.5,302.6 1088.5,293.1 1092.5,283.0 1096.5,272.9 1100.5,266.3 1104.5,258.5 1108.5,250.8 1112.5,242.9 1116.5,234.1 1120.5,225.4 1124.5,216.9 1128.5,206.9 1132.5,194.7 1136.5,181.4 1140.5,168.8 1144.5,155.8 1148.5,143.5" fill="none" stroke="#ffff00" stroke-width="1" shape-rendering="crispEdges"/>
<polyline points="4.5,493.0 8.5,487.2 12.5,475.3 16.5,465.5 20.5,455.0 24.5,447.0 28.5,437.4 32.5,427.0 36.5,417.8 40.5,409.6 44.5,404.9 48.5,401.3 52.5,395.8 56.5,391.3 60.5,385.1 64.5,374.6 68.5,366.3 72.5,363.4 76.5,363.1 80.5,362.4 84.5,362.6 88.5,364.4 92.5,361.4 96.5,364.2 100.5,365.2 104.5,366.9 108.5,369.2 112.5,369.4 116.5,373.3 120.5,377.6 124.5,384.1 128.5,385.6 132.5,384.7 136.5,382.2 140.5,379.6 144.5,377.7 148.5,381.7 152.5,380.2 156.5,374.4 160.5,368.2 164.5,365.1 168.5,366.8 172.5,367.2 176.5,366.4 180.5,365.3 184.5,363.6 188.5,360.9 192.5,359.8 196.5,359.0 200.5,358.3 204.5,354.9 208.5,351.1 212.5,350.0 216.5,349.5 220.5,345.1 224.5,340.1 228.5,333.5 232.5,331.1 236.5,327.2 240.5,323.7 244.5,321.4 248.5,318.5 252.5,313.5 256.5,309.9 260.5,305.7 264.5,302.7 268.5,298.8 272.5,294.9 276.5,293.0 280.5,288.6 284.5,285.7 288.5,278.8 292.5,278.9 296.5,280.9 300.5,280.6 304.5,281.3 308.5,283.1 312.5,283.5 316.5,283.2 320.5,281.6 324.5,281.9 328.5,282.7 332.5,284.3 336.5,288.1 340.5,290.8 344.5,293.3 348.5,292.9 352.5,290.4 356.5,288.3 360.5,286.4 364.5,284.3 368.5,283.6 372.5,284.4 376.5,285.5 380.5,290.5 384.5,296.7 388.5,301.0 392.5,303.9 396.5,307.5 400.5,309.5 404.5,312.1 408.5,316.2 412.5,320.7 416.5,323.9 420.5,327.8 424.5,331.6 428.5,333.8 432.5,338.1 436.5,334.9 440.5,331.6 444.5,329.6 448.5,328.8 452.5,329.4 456.5,331.8 460.5,333.2 464.5,333.4 468.5,333.4 472.5,334.8 476.5,337.0 480.5,340.2 484.5,343.7 488.5,349.4 492.5,358.5 496.5,368.2 500.5,377.7 504.5,386.2 508.5,394.3 512.5,401.7 516.5,406.2 520.5,410.8 524.5,415.5 528.5,421.6 532.5,426.3 536.5,432.7 540.5,439.5 544.5,443.7 548.5,449.5 552.5,453.2 556.5,453.4 560.5,452.7 564.5,452.4 568.5,452.5 572.5,453.7 576.5,454.9 580.5,456.0 584.5,457.2 588.5,458.0 592.5,456.4 596.5,455.2 600.5,453.3 604.5,450.9 608.5,450.4 612.5,452.6 616.5,458.1 620.5,463.7 624.5,470.1 628.5,477.8 632.5,483.9 636.5,489.7 640.5,494.4 644.5,500.1 648.5,504.5 652.5,507.1 656.5,510.2 660.5,511.0 664.5,511.4 668.5,512.8 672.5,511.4 676.5,509.3 680.5,506.6 684.5,504.1 688.5,505.1 692.5,505.1 696.5,503.7 700.5,502.7 704.5,502.2 708.5,501.9 712.5,501.4 716.5,501.9 720.5,501.2 724.5,499.7 728.5,500.3 732.5,500.0 736.5,500.9 740.5,500.6 744.5,498.2 748.5,498.0 752.5,497.9 756.5,498.6 760.5,499.7 764.5,501.4 768.5,505.4 772.5,506.3 776.5,506.7 780.5,506.7 784.5,505.1 788.5,503.0 792.5,501.0 796.5,499.4 800.5,497.9 804.5,497.6 808.5,496.3 812.5,494.0 816.5,488.4 820.5,482.7 824.5,474.1 828.5,465.1 832.5,455.5 836.5,442.2 840.5,430.3 844.5,419.1 848.5,405.5 852.5,391.2 856.5,377.5 860.5,363.1 864.5,350.0 868.5,336.9 872.5,327.9 876.5,319.9 880.5,311.8 884.5,305.4 888.5,299.3 892.5,298.3 896.5,297.5 900.5,296.4 904.5,296.9 908.5,297.7 912.5,296.9 916.5,295.7 920.5,296.4 924.5,296.2 928.5,294.9 932.5,293.0 936.5,292.0 940.5,294.4 944.5,297.5 948.5,302.5 952.5,306.1 956.5,309.4 960.5,312.3 964.5,315.6 968.5,320.4 972.5,325.7 976.5,330.5 980.5,333.9 984.5,337.4 988.5,341.7 992.5,344.3 996.5,344.8 1000.5,344.5 1004.5,343.2 1008.5,342.3 1012.5,341.9 1016.5,342.6 1020.5,342.8 1024.5,342.6 1028.5,342.2 1032.5,340.5 1036.5,340.5 1040.5,340.2 1044.5,340.2 1048.5,341.8 1052.5,342.3 1056.5,342.5 1060.5,341.7 1064.5,339.4 1068.5,333.1 1072.5,326.0 1076.5,308.5 1080.5,296.4 1084.5,281.7 1088.5,267.8 1092.5,253.0 1096.5,238.1 1100.5,228.2 1104.5,216.0 1108.5,204.6 1112.5,194.1 1116.5,181.3 1120.5,170.2 1124.5,163.5 1128.5,155.7 1132.5,155.4 1136.5,147.2 1140.5,141.7 1144.5,135.7 1148.5,130.3" fill="none" stroke="#ff0000" stroke-width="1" shape-rendering="crispEdges"/>
<polyline points="4.5,454.4 8.5,449.9 12.5,439.1 16.5,427.2 20.5,420.2 24.5,412.9 28.5,409.1 32.5,399.5 36.5,385.7 40.5,380.1 44.5,382.7 48.5,382.3 52.5,378.7 56.5,373.4 60.5,370.6 64.5,363.5 68.5,352.5 72.5,344.1 76.5,344.0 80.5,346.0 84.5,351.8 88.5,358.3 92.5,359.3 96.5,376.0 100.5,386.3 104.5,389.9 108.5,392.3 112.5,387.1 116.5,388.3 120.5,396.0 124.5,392.3 128.5,385.0 132.5,379.6 136.5,372.0 140.5,372.0 144.5,367.2 148.5,367.5 152.5,368.2 156.5,363.8 160.5,356.8 164.5,358.1 168.5,361.5 172.5,367.2 176.5,365.3 180.5,362.4 184.5,363.3 188.5,365.0 192.5,361.4 196.5,356.6 200.5,349.4 204.5,344.4 208.5,339.9 212.5,336.8 216.5,334.0 220.5,328.8 224.5,323.6 228.5,317.5 232.5,317.8 236.5,314.5 240.5,310.5 244.5,308.8 248.5,308.1 252.5,303.4 256.5,302.2 260.5,293.5 264.5,291.0 268.5,287.0 272.5,281.1 276.5,277.9 280.5,273.9 284.5,269.2 288.5,264.2 292.5,266.8 296.5,274.7 300.5,280.1 304.5,284.8 308.5,292.2 312.5,297.8 316.5,302.3 320.5,296.3 324.5,289.0 328.5,285.3 332.5,283.8 336.5,284.0 340.5,283.7 344.5,284.2 348.5,289.5 352.5,291.9 356.5,291.4 360.5,288.9 364.5,284.7 368.5,283.5 372.5,284.7 376.5,281.6 380.5,289.1 384.5,302.0 388.5,313.1 392.5,323.2 396.5,331.5 400.5,334.4 404.5,342.6 408.5,343.2 412.5,339.3 416.5,334.6 420.5,332.4 424.5,331.6 428.5,333.3 432.5,333.6 436.5,326.5 440.5,324.0 444.5,324.6 448.5,325.2 452.5,327.2 456.5,330.2 460.5,332.9 464.5,340.2 468.5,342.8 472.5,345.1 476.5,348.9 480.5,353.1 484.5,357.1 488.5,365.9 492.5,376.8 496.5,393.6 500.5,410.3 504.5,423.6 508.5,435.4 512.5,446.2 516.5,446.6 520.5,444.8 524.5,437.4 528.5,432.9 532.5,428.9 536.5,430.0 540.5,432.8 544.5,440.8 548.5,454.2 552.5,469.0 556.5,473.9 560.5,476.4 564.5,474.9 568.5,472.2 572.5,466.6 576.5,455.7 580.5,442.9 584.5,440.6 588.5,439.6 592.5,437.9 596.5,438.3 600.5,440.1 604.5,446.1 608.5,457.9 612.5,464.6 616.5,476.5 620.5,489.5 624.5,502.0 628.5,515.5 632.5,521.8 636.5,521.6 640.5,524.2 644.5,523.7 648.5,519.4 652.5,512.2 656.5,504.9 660.5,500.1 664.5,501.3 668.5,501.4 672.5,499.0 676.5,499.2 680.5,501.0 684.5,503.4 688.5,510.0 692.5,509.0 696.5,506.0 700.5,506.4 704.5,505.1 708.5,502.8 712.5,499.4 716.5,493.8 720.5,493.4 724.5,493.4 728.5,494.3 732.5,494.9 736.5,498.9 740.5,501.7 744.5,502.6 748.5,502.6 752.5,502.3 756.5,503.0 760.5,504.5 764.5,503.9 768.5,509.1 772.5,510.0 776.5,510.8 780.5,511.0 784.5,507.2 788.5,501.5 792.5,498.2 796.5,489.7 800.5,485.9 804.5,484.4 808.5,481.7 812.5,480.8 816.5,475.3 820.5,467.2 824.5,458.4 828.5,444.3 832.5,426.6 836.5,402.8 840.5,379.8 844.5,363.0 848.5,343.7 852.5,324.1 856.5,310.7 860.5,299.7 864.5,297.2 868.5,293.9 872.5,292.7 876.5,296.2 880.5,299.5 884.5,300.1 888.5,298.9 892.5,299.4 896.5,301.2 900.5,300.1 904.5,297.5 908.5,295.8 912.5,293.8 916.5,292.5 920.5,293.3 924.5,291.1 928.5,289.7 932.5,288.4 936.5,288.1 940.5,295.0 944.5,302.5 948.5,311.7 952.5,321.0 956.5,329.1 960.5,336.1 964.5,343.1 968.5,345.8 972.5,349.0 976.5,349.4 980.5,346.7 984.5,345.8 988.5,347.2 992.5,345.5 996.5,343.7 1000.5,340.0 1004.5,337.0 1008.5,337.9 1012.5,337.9 1016.5,337.9 1020.5,340.0 1024.5,341.5 1028.5,344.4 1032.5,343.9 1036.5,343.0 1040.5,342.6 1044.5,342.6 1048.5,343.7 1052.5,343.0 1056.5,340.5 1060.5,339.5 1064.5,335.9 1068.5,323.7 1072.5,309.4 1076.5,273.4 1080.5,249.7 1084.5,222.9 1088.5,196.0 1092.5,170.0 1096.5,152.4 1100.5,147.0 1104.5,158.6 1108.5,159.5 1112.5,165.4 1116.5,166.7 1120.5,170.3 1124.5,174.6 1128.5,164.4 1132.5,152.2 1136.5,135.0 1140.5,118.0 1144.5,104.6 1148.5,90.2" fill="none" stroke="#0000c8" stroke-width="1" shape-rendering="crispEdges"/>
<rect x="4" y="125" width="1415" height="3" fill="#ff0000"/>
<rect x="3" y="123" width="7" height="7" fill="#ff0000"/><rect x="6" y="126" width="1" height="1" fill="#fff"/>
<rect x="1413" y="123" width="7" height="7" fill="#ff0000"/><rect x="1416" y="126" width="1" height="1" fill="#fff"/>
<rect x="1420" y="123" width="1" height="7" fill="#fff"/>
<rect x="1421" y="120" width="41" height="11" fill="#ff0000"/>
<text x="1425" y="129" font-size="9.8" fill="#fff" stroke="#fff" stroke-width="0.2" textLength="32.7" lengthAdjust="spacingAndGlyphs">7.10044</text>
<rect x="4" y="222" width="1415" height="3" fill="#00ff00"/>
<rect x="3" y="220" width="7" height="7" fill="#00ff00"/><rect x="6" y="223" width="1" height="1" fill="#fff"/>
<rect x="1413" y="220" width="7" height="7" fill="#00ff00"/><rect x="1416" y="223" width="1" height="1" fill="#fff"/>
<rect x="1420" y="220" width="1" height="7" fill="#fff"/>
<rect x="1421" y="217" width="41" height="11" fill="#00ff00"/>
<text x="1425" y="226" font-size="9.8" fill="#fff" stroke="#fff" stroke-width="0.2" textLength="32.7" lengthAdjust="spacingAndGlyphs">7.00092</text>
<rect x="4" y="320" width="1415" height="3" fill="#0000ff"/>
<rect x="3" y="318" width="7" height="7" fill="#0000ff"/><rect x="6" y="321" width="1" height="1" fill="#fff"/>
<rect x="1413" y="318" width="7" height="7" fill="#0000ff"/><rect x="1416" y="321" width="1" height="1" fill="#fff"/>
<rect x="1420" y="318" width="1" height="7" fill="#fff"/>
<rect x="1421" y="315" width="41" height="11" fill="#0000ff"/>
<text x="1425" y="324" font-size="9.8" fill="#fff" stroke="#fff" stroke-width="0.2" textLength="32.7" lengthAdjust="spacingAndGlyphs">6.90100</text>
<rect x="4" y="398" width="1415" height="3" fill="#0000ff"/>
<rect x="1420" y="396" width="1" height="7" fill="#fff"/>
<rect x="1421" y="393" width="41" height="11" fill="#0000ff"/>
<text x="1425" y="402" font-size="9.8" fill="#fff" stroke="#fff" stroke-width="0.2" textLength="32.7" lengthAdjust="spacingAndGlyphs">6.82103</text>
<rect x="4" y="460" width="1415" height="3" fill="#0000ff"/>
<rect x="1420" y="458" width="1" height="7" fill="#fff"/>
<rect x="1421" y="455" width="41" height="11" fill="#0000ff"/>
<text x="1425" y="464" font-size="9.8" fill="#fff" stroke="#fff" stroke-width="0.2" textLength="32.7" lengthAdjust="spacingAndGlyphs">6.75804</text>
<rect x="1421" y="51" width="41" height="11" fill="#000"/>
<text x="1425" y="60" font-size="9.8" fill="#fff" stroke="#fff" stroke-width="0.2" textLength="32.6" lengthAdjust="spacingAndGlyphs">7.17220</text>
<path d="M1130 23 L1139 23 L1134.5 28 Z" fill="#a0a0a0"/>
<path d="M4 573h1v60h-1z M8 577h1v56h-1z M12 575h1v58h-1z M16 575h1v58h-1z M20 576h1v57h-1z M24 577h1v56h-1z M28 578h1v55h-1z M32 576h1v57h-1z M36 578h1v55h-1z M40 578h1v55h-1z M44 583h1v50h-1z M48 586h1v47h-1z M52 587h1v46h-1z M56 588h1v45h-1z M60 587h1v46h-1z M64 587h1v46h-1z M68 584h1v49h-1z M72 587h1v46h-1z M76 593h1v40h-1z M80 597h1v36h-1z M84 602h1v31h-1z M88 604h1v29h-1z M92 604h1v29h-1z M96 608h1v25h-1z M100 613h1v20h-1z M104 617h1v16h-1z M108 620h1v13h-1z M112 618h1v15h-1z M116 619h1v14h-1z M120 620h1v13h-1z M124 621h1v12h-1z M128 621h1v12h-1z M132 622h1v11h-1z M136 621h1v12h-1z M140 620h1v13h-1z M144 620h1v13h-1z M148 622h1v11h-1z M152 623h1v10h-1z M156 622h1v11h-1z M160 620h1v13h-1z M164 621h1v12h-1z M168 623h1v10h-1z M172 625h1v8h-1z M176 626h1v7h-1z M180 625h1v8h-1z M184 625h1v8h-1z M188 624h1v9h-1z M192 623h1v10h-1z M196 623h1v10h-1z M200 622h1v11h-1z M204 622h1v11h-1z M208 621h1v12h-1z M212 621h1v12h-1z M216 621h1v12h-1z M220 619h1v14h-1z M224 618h1v15h-1z M228 617h1v16h-1z M232 619h1v14h-1z M236 618h1v15h-1z M240 618h1v15h-1z M244 618h1v15h-1z M248 618h1v15h-1z M252 617h1v16h-1z M256 616h1v17h-1z M260 616h1v17h-1z M264 616h1v17h-1z M268 615h1v18h-1z M272 615h1v18h-1z M276 615h1v18h-1z M280 614h1v19h-1z M284 613h1v20h-1z M288 613h1v20h-1z M292 616h1v17h-1z M296 621h1v12h-1z M300 623h1v10h-1z M304 625h1v8h-1z M308 626h1v7h-1z M312 626h1v7h-1z M316 626h1v7h-1z M320 624h1v9h-1z M324 624h1v9h-1z M328 625h1v8h-1z M332 626h1v7h-1z M336 628h1v5h-1z M340 628h1v5h-1z M344 628h1v5h-1z M348 629h1v4h-1z M352 629h1v4h-1z M356 629h1v4h-1z M360 628h1v5h-1z M364 628h1v5h-1z M368 628h1v5h-1z M372 629h1v4h-1z M376 628h1v5h-1z M380 632h1v2h-1z M384 632h1v7h-1z M388 632h1v9h-1z M392 632h1v11h-1z M396 632h1v11h-1z M400 632h1v10h-1z M404 632h1v10h-1z M408 632h1v12h-1z M412 632h1v12h-1z M416 632h1v11h-1z M420 632h1v10h-1z M424 632h1v10h-1z M428 632h1v9h-1z M432 632h1v8h-1z M436 632h1v6h-1z M440 632h1v6h-1z M444 632h1v6h-1z M448 632h1v6h-1z M452 632h1v7h-1z M456 632h1v7h-1z M460 632h1v8h-1z M464 632h1v9h-1z M468 632h1v9h-1z M472 632h1v8h-1z M476 632h1v9h-1z M480 632h1v11h-1z M484 632h1v12h-1z M488 632h1v15h-1z M492 632h1v18h-1z M496 632h1v23h-1z M500 632h1v26h-1z M504 632h1v28h-1z M508 632h1v29h-1z M512 632h1v29h-1z M516 632h1v27h-1z M520 632h1v25h-1z M524 632h1v23h-1z M528 632h1v22h-1z M532 632h1v21h-1z M536 632h1v22h-1z M540 632h1v23h-1z M544 632h1v24h-1z M548 632h1v27h-1z M552 632h1v29h-1z M556 632h1v27h-1z M560 632h1v24h-1z M564 632h1v23h-1z M568 632h1v20h-1z M572 632h1v17h-1z M576 632h1v15h-1z M580 632h1v12h-1z M584 632h1v12h-1z M588 632h1v10h-1z M592 632h1v10h-1z M596 632h1v9h-1z M600 632h1v9h-1z M604 632h1v10h-1z M608 632h1v13h-1z M612 632h1v15h-1z M616 632h1v17h-1z M620 632h1v20h-1z M624 632h1v22h-1z M628 632h1v24h-1z M632 632h1v24h-1z M636 632h1v22h-1z M640 632h1v21h-1z M644 632h1v20h-1z M648 632h1v19h-1z M652 632h1v16h-1z M656 632h1v14h-1z M660 632h1v13h-1z M664 632h1v13h-1z M668 632h1v13h-1z M672 632h1v11h-1z M676 632h1v11h-1z M680 632h1v10h-1z M684 632h1v10h-1z M688 632h1v11h-1z M692 632h1v10h-1z M696 632h1v9h-1z M700 632h1v8h-1z M704 632h1v7h-1z M708 632h1v5h-1z M712 632h1v4h-1z M716 632h1v3h-1z M720 632h1v4h-1z M724 632h1v3h-1z M728 632h1v3h-1z M732 632h1v4h-1z M736 632h1v4h-1z M740 632h1v4h-1z M744 632h1v4h-1z M748 632h1v4h-1z M752 632h1v3h-1z M756 632h1v3h-1z M760 632h1v4h-1z M764 632h1v4h-1z M768 632h1v6h-1z M772 632h1v6h-1z M776 632h1v5h-1z M780 632h1v4h-1z M784 632h1v2h-1z M788 631h1v2h-1z M792 630h1v3h-1z M796 629h1v4h-1z M800 629h1v4h-1z M804 629h1v4h-1z M808 628h1v5h-1z M812 628h1v5h-1z M816 625h1v8h-1z M820 622h1v11h-1z M824 619h1v14h-1z M828 615h1v18h-1z M832 611h1v22h-1z M836 604h1v29h-1z M840 600h1v33h-1z M844 597h1v36h-1z M848 593h1v40h-1z M852 590h1v43h-1z M856 589h1v44h-1z M860 588h1v45h-1z M864 588h1v45h-1z M868 589h1v44h-1z M872 591h1v42h-1z M876 594h1v39h-1z M880 595h1v38h-1z M884 596h1v37h-1z M888 597h1v36h-1z M892 598h1v35h-1z M896 601h1v32h-1z M900 603h1v30h-1z M904 604h1v29h-1z M908 605h1v28h-1z M912 606h1v27h-1z M916 606h1v27h-1z M920 608h1v25h-1z M924 610h1v23h-1z M928 611h1v22h-1z M932 612h1v21h-1z M936 614h1v19h-1z M940 617h1v16h-1z M944 620h1v13h-1z M948 625h1v8h-1z M952 628h1v5h-1z M956 630h1v3h-1z M960 631h1v2h-1z M964 632h1v1h-1z M968 632h1v3h-1z M972 632h1v4h-1z M976 632h1v6h-1z M980 632h1v5h-1z M984 632h1v5h-1z M988 632h1v5h-1z M992 632h1v4h-1z M996 632h1v4h-1z M1000 632h1v3h-1z M1004 632h1v3h-1z M1008 632h1v4h-1z M1012 632h1v4h-1z M1016 632h1v4h-1z M1020 632h1v4h-1z M1024 632h1v4h-1z M1028 632h1v4h-1z M1032 632h1v4h-1z M1036 632h1v3h-1z M1040 632h1v3h-1z M1044 632h1v3h-1z M1048 632h1v4h-1z M1052 632h1v3h-1z M1056 632h1v2h-1z M1060 632h1v2h-1z M1064 631h1v2h-1z M1068 626h1v7h-1z M1072 621h1v12h-1z M1076 608h1v25h-1z M1080 604h1v29h-1z M1084 598h1v35h-1z M1088 594h1v39h-1z M1092 591h1v42h-1z M1096 588h1v45h-1z M1100 592h1v41h-1z M1104 594h1v39h-1z M1108 595h1v38h-1z M1112 597h1v36h-1z M1116 597h1v36h-1z M1120 598h1v35h-1z M1124 599h1v34h-1z M1128 599h1v34h-1z M1132 596h1v37h-1z M1136 592h1v41h-1z M1140 590h1v43h-1z M1144 589h1v44h-1z M1148 588h1v45h-1z" fill="#c0c0c0" shape-rendering="crispEdges"/>
<polyline points="4.5,575.0 8.5,575.0 12.5,575.0 16.5,574.9 20.5,574.9 24.5,575.0 28.5,575.4 32.5,575.5 36.5,576.0 40.5,576.6 44.5,577.3 48.5,578.5 52.5,579.9 56.5,581.2 60.5,582.3 64.5,583.3 68.5,584.2 72.5,585.3 76.5,586.9 80.5,588.5 84.5,590.3 88.5,592.1 92.5,593.9 96.5,596.2 100.5,599.1 104.5,602.8 108.5,606.4 112.5,609.2 116.5,611.6 120.5,613.7 124.5,615.6 128.5,617.5 132.5,619.1 136.5,619.9 140.5,620.3 144.5,620.3 148.5,620.6 152.5,621.0 156.5,621.2 160.5,621.1 164.5,621.1 168.5,621.2 172.5,621.7 176.5,622.3 180.5,622.9 184.5,623.3 188.5,623.4 192.5,623.6 196.5,623.9 200.5,624.1 204.5,624.0 208.5,623.6 212.5,623.1 216.5,622.5 220.5,621.9 224.5,621.2 228.5,620.5 232.5,620.1 236.5,619.6 240.5,619.1 244.5,618.8 248.5,618.5 252.5,618.0 256.5,617.7 260.5,617.4 264.5,617.3 268.5,616.9 272.5,616.6 276.5,616.2 280.5,615.7 284.5,615.2 288.5,614.8 292.5,614.7 296.5,615.3 300.5,616.1 304.5,617.1 308.5,618.3 312.5,619.5 316.5,620.8 320.5,622.0 324.5,623.3 328.5,624.3 332.5,624.9 336.5,625.4 340.5,625.8 344.5,626.0 348.5,626.3 352.5,626.7 356.5,627.2 360.5,627.7 364.5,628.0 368.5,628.2 372.5,628.3 376.5,628.4 380.5,628.9 384.5,629.9 388.5,631.2 392.5,632.6 396.5,634.2 400.5,635.6 404.5,637.1 408.5,638.6 412.5,640.2 416.5,641.2 420.5,641.6 424.5,641.7 428.5,641.4 432.5,641.1 436.5,640.7 440.5,640.2 444.5,639.6 448.5,638.9 452.5,638.5 456.5,638.2 460.5,638.0 464.5,638.1 468.5,638.1 472.5,638.4 476.5,638.7 480.5,639.3 484.5,639.9 488.5,640.8 492.5,642.0 496.5,643.7 500.5,645.5 504.5,647.6 508.5,650.0 512.5,652.2 516.5,654.0 520.5,655.5 524.5,656.4 528.5,656.8 532.5,656.5 536.5,656.1 540.5,655.6 544.5,655.1 548.5,654.8 552.5,655.1 556.5,655.3 560.5,655.5 564.5,655.6 568.5,655.5 572.5,655.0 576.5,654.1 580.5,652.7 584.5,651.0 588.5,648.9 592.5,646.9 596.5,645.2 600.5,643.7 604.5,642.6 608.5,642.1 612.5,642.1 616.5,642.6 620.5,643.5 624.5,644.8 628.5,646.4 632.5,648.0 636.5,649.5 640.5,650.7 644.5,651.5 648.5,652.0 652.5,651.9 656.5,651.3 660.5,650.2 664.5,649.0 668.5,647.8 672.5,646.6 676.5,645.5 680.5,644.4 684.5,643.3 688.5,642.8 692.5,642.3 696.5,641.8 700.5,641.3 704.5,640.6 708.5,639.9 712.5,639.1 716.5,638.4 720.5,637.7 724.5,636.8 728.5,636.0 732.5,635.5 736.5,635.1 740.5,634.8 744.5,634.6 748.5,634.6 752.5,634.6 756.5,634.6 760.5,634.7 764.5,634.7 768.5,635.0 772.5,635.2 776.5,635.3 780.5,635.3 784.5,635.1 788.5,634.9 792.5,634.4 796.5,633.8 800.5,633.1 804.5,632.3 808.5,631.4 812.5,630.4 816.5,629.3 820.5,628.1 824.5,626.8 828.5,625.1 832.5,623.1 836.5,620.4 840.5,617.1 844.5,613.6 848.5,609.7 852.5,605.8 856.5,602.1 860.5,598.7 864.5,595.7 868.5,593.2 872.5,591.7 876.5,591.0 880.5,590.8 884.5,591.2 888.5,592.0 892.5,593.1 896.5,594.4 900.5,596.1 904.5,597.7 908.5,599.3 912.5,600.7 916.5,601.9 920.5,603.3 924.5,604.7 928.5,606.1 932.5,607.4 936.5,608.6 940.5,610.0 944.5,611.7 948.5,613.8 952.5,616.2 956.5,618.7 960.5,621.1 964.5,623.4 968.5,625.8 972.5,628.1 976.5,630.3 980.5,632.1 984.5,633.3 988.5,634.2 992.5,634.7 996.5,635.1 1000.5,635.2 1004.5,635.3 1008.5,635.3 1012.5,635.0 1016.5,634.9 1020.5,634.8 1024.5,634.6 1028.5,634.6 1032.5,634.6 1036.5,634.7 1040.5,634.6 1044.5,634.6 1048.5,634.6 1052.5,634.5 1056.5,634.4 1060.5,634.1 1064.5,633.7 1068.5,632.7 1072.5,631.3 1076.5,628.4 1080.5,625.0 1084.5,620.9 1088.5,616.5 1092.5,611.8 1096.5,606.8 1100.5,602.5 1104.5,599.0 1108.5,596.1 1112.5,594.8 1116.5,594.1 1120.5,594.1 1124.5,594.7 1128.5,595.6 1132.5,596.4 1136.5,596.4 1140.5,596.1 1144.5,595.3 1148.5,594.2" fill="none" stroke="#ff0000" stroke-width="1" stroke-dasharray="3,3" shape-rendering="crispEdges"/>
<line x1="4" y1="708.5" x2="1419" y2="708.5" stroke="#c0c0c0" stroke-dasharray="3,3"/>
<line x1="4" y1="759.5" x2="1419" y2="759.5" stroke="#c0c0c0" stroke-dasharray="3,3"/>
<polyline points="4.5,698.3 8.5,716.4 12.5,707.1 16.5,707.0 20.5,707.0 24.5,708.2 28.5,706.9 32.5,701.8 36.5,710.3 40.5,708.2 44.5,722.6 48.5,719.4 52.5,716.7 56.5,713.7 60.5,710.2 64.5,710.0 68.5,704.8 72.5,722.7 76.5,729.7 80.5,729.1 84.5,730.0 88.5,726.2 92.5,720.0 96.5,732.8 100.5,737.5 104.5,735.8 108.5,733.7 112.5,725.7 116.5,730.0 120.5,731.0 124.5,728.7 128.5,729.6 132.5,730.4 136.5,725.2 140.5,726.2 144.5,724.0 148.5,734.1 152.5,731.6 156.5,725.5 160.5,722.7 164.5,730.2 168.5,734.4 172.5,735.4 176.5,732.9 180.5,728.6 184.5,727.9 188.5,725.6 192.5,724.2 196.5,727.4 200.5,724.6 204.5,726.0 208.5,721.9 212.5,724.5 216.5,722.6 220.5,716.6 224.5,720.8 228.5,716.4 232.5,732.8 236.5,723.1 240.5,723.9 244.5,726.4 248.5,722.6 252.5,718.7 256.5,721.2 260.5,720.3 264.5,721.0 268.5,719.2 272.5,717.7 276.5,719.0 280.5,713.0 284.5,713.8 288.5,712.4 292.5,734.6 296.5,742.7 300.5,735.5 304.5,735.0 308.5,733.6 312.5,730.3 316.5,726.3 320.5,721.4 324.5,728.8 328.5,729.4 332.5,734.0 336.5,736.6 340.5,731.7 344.5,729.1 348.5,734.5 352.5,734.9 356.5,728.2 360.5,728.2 364.5,726.3 368.5,729.9 372.5,733.4 376.5,727.7 380.5,751.3 384.5,755.2 388.5,750.3 392.5,745.8 396.5,744.1 400.5,734.1 404.5,740.5 408.5,745.8 412.5,741.5 416.5,736.1 420.5,737.4 424.5,739.0 428.5,734.8 432.5,738.7 436.5,729.7 440.5,735.2 444.5,736.7 448.5,737.9 452.5,742.6 456.5,740.3 460.5,743.5 464.5,744.6 468.5,738.7 472.5,739.3 476.5,744.4 480.5,750.0 484.5,746.5 488.5,757.4 492.5,760.8 496.5,765.4 500.5,765.6 504.5,761.3 508.5,763.0 512.5,755.8 516.5,744.2 520.5,744.9 524.5,740.5 528.5,746.5 532.5,744.4 536.5,754.8 540.5,753.7 544.5,755.4 548.5,762.7 552.5,762.1 556.5,744.1 560.5,737.8 564.5,741.5 568.5,738.3 572.5,734.7 576.5,735.6 580.5,731.2 584.5,738.4 588.5,734.7 592.5,737.5 596.5,738.8 600.5,737.9 604.5,746.8 608.5,752.6 612.5,748.6 616.5,753.8 620.5,757.2 624.5,757.2 628.5,758.2 632.5,750.5 636.5,742.9 640.5,745.5 644.5,746.0 648.5,742.4 652.5,735.1 656.5,736.3 660.5,736.5 664.5,743.6 668.5,744.4 672.5,737.6 676.5,740.9 680.5,737.2 684.5,740.2 688.5,749.5 692.5,736.8 696.5,733.1 700.5,735.5 704.5,734.9 708.5,729.2 712.5,729.2 716.5,734.9 720.5,736.6 724.5,733.2 728.5,738.6 732.5,737.1 736.5,739.9 740.5,736.1 744.5,736.5 748.5,735.5 752.5,730.5 756.5,740.0 760.5,741.1 764.5,736.8 768.5,749.7 772.5,736.2 776.5,735.3 780.5,729.5 784.5,726.9 788.5,722.8 792.5,727.0 796.5,726.0 800.5,727.4 804.5,734.2 808.5,724.6 812.5,727.5 816.5,714.1 820.5,712.0 824.5,710.0 828.5,703.2 832.5,701.4 836.5,693.0 840.5,698.1 844.5,698.0 848.5,694.9 852.5,693.8 856.5,698.3 860.5,700.9 864.5,699.8 868.5,702.9 872.5,709.7 876.5,712.7 880.5,710.0 884.5,707.9 888.5,706.6 892.5,708.9 896.5,716.7 900.5,715.0 904.5,714.0 908.5,712.4 912.5,708.9 916.5,708.7 920.5,719.7 924.5,717.9 928.5,717.5 932.5,716.6 936.5,717.6 940.5,737.6 944.5,738.8 948.5,750.0 952.5,747.7 956.5,742.8 960.5,738.2 964.5,738.9 968.5,741.9 972.5,744.4 976.5,748.8 980.5,735.7 984.5,736.8 988.5,739.5 992.5,730.2 996.5,733.3 1000.5,730.3 1004.5,737.8 1008.5,738.1 1012.5,736.2 1016.5,739.2 1020.5,736.3 1024.5,737.3 1028.5,739.1 1032.5,734.8 1036.5,733.8 1040.5,733.4 1044.5,739.4 1048.5,740.5 1052.5,733.6 1056.5,727.6 1060.5,730.1 1064.5,719.2 1068.5,701.3 1072.5,700.3 1076.5,685.0 1080.5,709.6 1084.5,706.1 1088.5,706.8 1092.5,705.3 1096.5,705.1 1100.5,725.4 1104.5,720.7 1108.5,721.4 1112.5,721.8 1116.5,717.3 1120.5,717.8 1124.5,718.8 1128.5,715.2 1132.5,708.6 1136.5,704.9 1140.5,705.9 1144.5,705.5 1148.5,704.8" fill="none" stroke="#1e90ff" stroke-width="1" shape-rendering="crispEdges"/>
<rect x="7" y="42" width="52" height="24" fill="url(#rtop)"/>
<rect x="7" y="42" width="52" height="1" fill="#c01010"/>
<rect x="7" y="66" width="109" height="40" fill="url(#rbot)"/>
<rect x="118" y="66" width="108" height="40" fill="url(#rbot)"/>
<rect x="174" y="42" width="52" height="24" fill="url(#rtop)"/>
<rect x="174" y="42" width="52" height="1" fill="#c01010"/>
<rect x="11" y="66" width="44" height="1" fill="#7a0000"/>
<rect x="178" y="66" width="44" height="1" fill="#7a0000"/>
<text x="19.5" y="58" font-size="12" fill="#fff" text-anchor="start" font-weight="normal" textLength="25.5" lengthAdjust="spacingAndGlyphs" >SELL</text>
<text x="187.5" y="58" font-size="12" fill="#fff" text-anchor="start" font-weight="normal" textLength="23.5" lengthAdjust="spacingAndGlyphs" >BUY</text>
<rect x="61.5" y="42.5" width="110" height="21" fill="#fff" stroke="#a8a8a8"/>
<rect x="62" y="43" width="20" height="20" fill="url(#gbtn)"/>
<rect x="82" y="43" width="1" height="20" fill="#a8a8a8"/>
<rect x="151" y="43" width="20" height="20" fill="url(#gbtn)"/>
<rect x="150" y="43" width="1" height="20" fill="#a8a8a8"/>
<path d="M69.5 51 L74.5 51 L72 54 Z" fill="#4050b0"/>
<path d="M158.5 54 L163.5 54 L161 51 Z" fill="#4050b0"/>
<text x="124" y="57.3" font-size="12.5" fill="#000" text-anchor="start" font-weight="normal" textLength="22.5" lengthAdjust="spacingAndGlyphs" >1.00</text>
<text x="27" y="97" font-size="12.5" fill="#fff" text-anchor="start" font-weight="bold" textLength="22" lengthAdjust="spacingAndGlyphs" >7.17</text>
<text x="55.5" y="97" font-size="33" fill="#fff" text-anchor="start" font-weight="normal" textLength="32.5" lengthAdjust="spacingAndGlyphs" >22</text>
<text x="94" y="81" font-size="11" fill="#fff" text-anchor="start" font-weight="bold" textLength="7" lengthAdjust="spacingAndGlyphs" >0</text>
<text x="137" y="97" font-size="12.5" fill="#fff" text-anchor="start" font-weight="bold" textLength="23.5" lengthAdjust="spacingAndGlyphs" >7.17</text>
<text x="165" y="97" font-size="33" fill="#fff" text-anchor="start" font-weight="normal" textLength="34" lengthAdjust="spacingAndGlyphs" >45</text>
<text x="204.5" y="81" font-size="11" fill="#fff" text-anchor="start" font-weight="bold" textLength="7.5" lengthAdjust="spacingAndGlyphs" >9</text>
</svg></body></html>
